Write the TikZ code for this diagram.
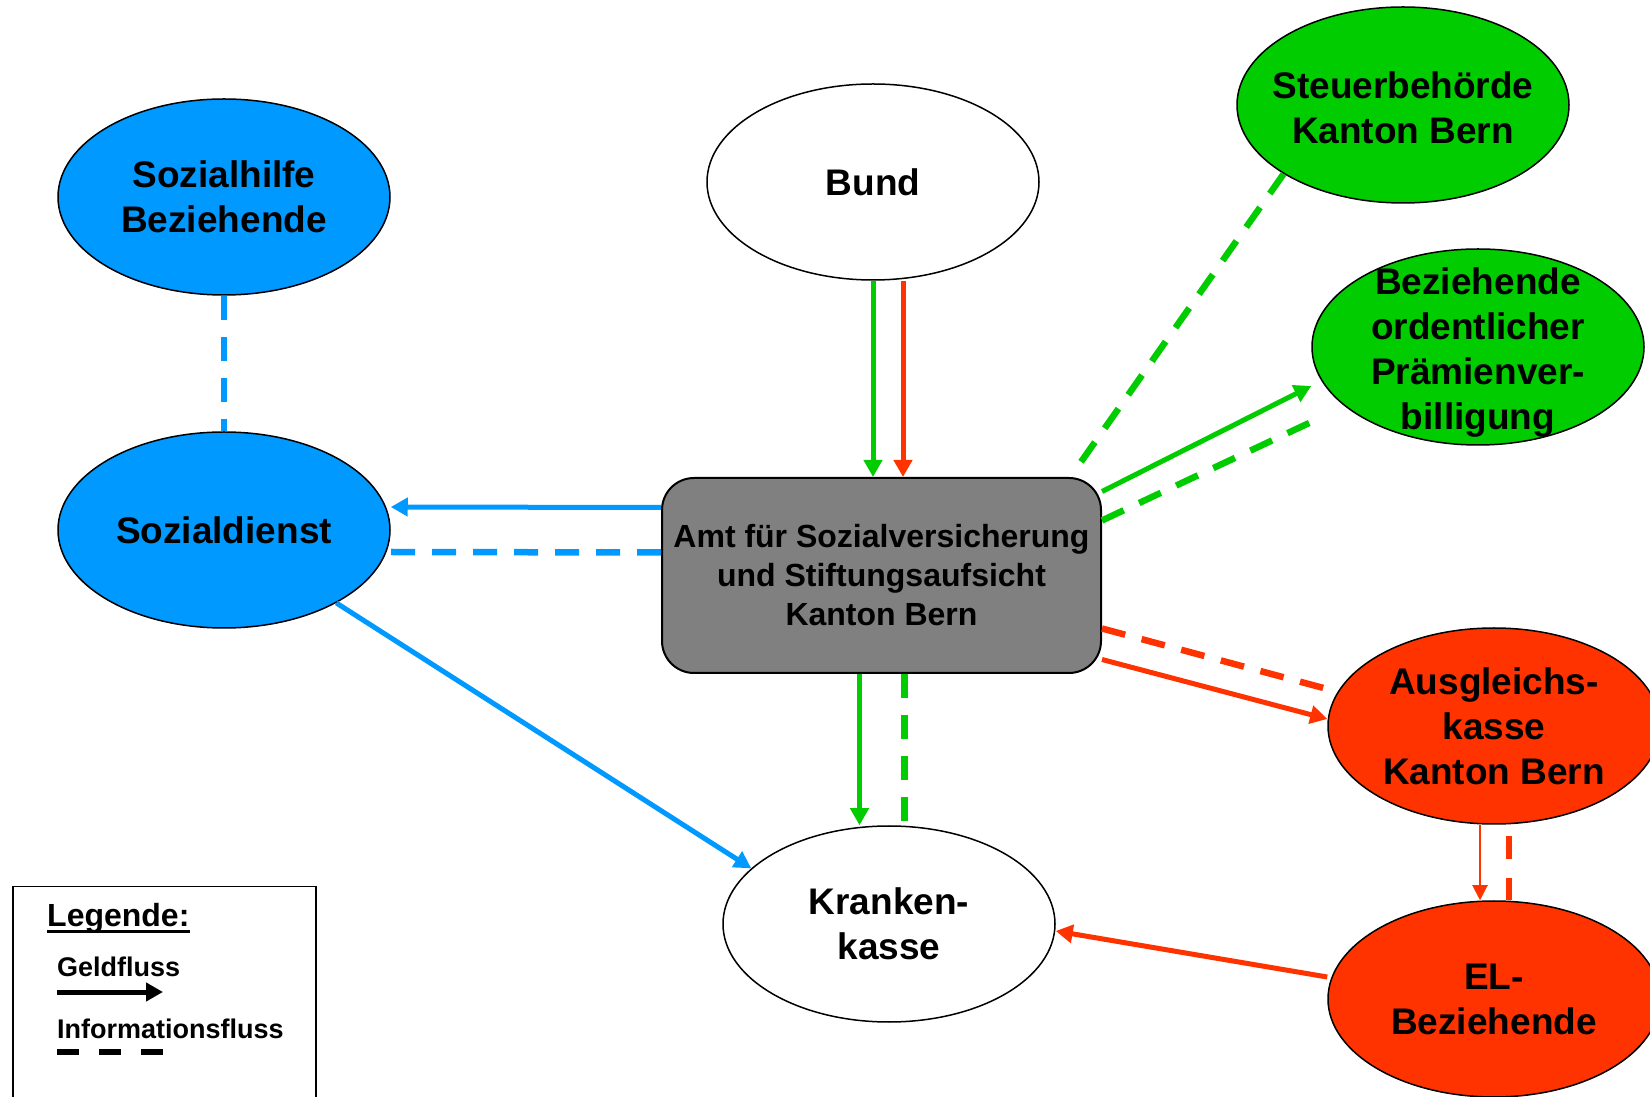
\documentclass[tikz,border=0pt]{standalone}
\usepackage{fontspec}
\setmainfont{Liberation Sans}
\usetikzlibrary{shapes.geometric,arrows.meta}
\definecolor{sdblue}{HTML}{0099FF}
\definecolor{sdgreen}{HTML}{00CC00}
\definecolor{sdred}{HTML}{FF3300}
\tikzset{
    > = {Triangle[length=17pt,width=18pt]},
    ell text/.style = {align=center, inner sep=0pt, font=\fontsize{37}{45}\selectfont\bfseries},
    ell/.style = {ellipse, draw, line width=1.5pt, minimum width=332pt, minimum height=196pt, ell text},
    amtbox/.style = {rectangle, draw, fill=gray, line width=2pt, rounded corners=32pt,
        minimum width=439pt, minimum height=195pt, align=center, font=\fontsize{32}{39}\selectfont\bfseries},
    legtext/.style = {anchor=base west, inner sep=0pt, font=\fontsize{27}{32}\selectfont\bfseries},
    geld/.style = {->, line width=5pt},
    thin geld/.style = {-{Triangle[length=15pt,width=15pt]}, line width=2pt},
    info/.style = {line width=6.5pt, dash pattern=on 24pt off 17pt}
}

\begin{document}
\begin{tikzpicture}[x=1pt,y=1pt]
    \useasboundingbox (0,0) rectangle (1650,1096);

    \node[ell, fill=sdblue] (hilfe) at (224,899) {Sozialhilfe\\Beziehende};
    \node[ell, fill=sdblue] (sozdienst) at (224,566) {Sozialdienst};
    \node[ell, fill=white] (bund) at (873,914) {Bund};
    \node[ell, fill=sdgreen, label={[ell text, yshift=-3pt]center:Steuerbehörde\\Kanton Bern}] (steuer) at (1403,991) {};
    \node[ell, fill=sdgreen, label={[ell text, yshift=-6pt]center:Beziehende\\ordentlicher\\Prämienver-\\billigung}] (praemie) at (1478,749) {};
    \node[ell, fill=sdred] (ausgleich) at (1494,370) {Ausgleichs-\\kasse\\Kanton Bern};
    \node[ell, fill=sdred] (elbez) at (1494,97) {EL-\\Beziehende};
    \node[ell, fill=white] (kranken) at (889,172) {Kranken-\\kasse};
    \node[amtbox] (amt) at (881.5,520.5) {Amt für Sozialversicherung\\und Stiftungsaufsicht\\Kanton Bern};

    % Sozialdienst
    \draw[info, sdblue] (hilfe.south) -- (sozdienst.north);
    \draw[geld, sdblue] ([yshift=68pt]amt.west) -- ([yshift=23pt]sozdienst.east);
    \draw[info, sdblue] ([yshift=23pt]amt.west) -- ([yshift=-22pt]sozdienst.east);
    \draw[geld, sdblue] (sozdienst.-33) -- (kranken.158.5);

    % Bund
    \draw[geld, sdgreen] (bund.south) -- (bund.south |- amt.north);
    \draw[geld, sdred] ([xshift=30pt]bund.south) -- ([xshift=30pt]bund.south |- amt.north);

    % Krankenkasse
    \draw[geld, sdgreen] ([xshift=-22pt]amt.south) -- ([xshift=-22pt]amt.south |- kranken.north);
    \draw[info, sdgreen] ([xshift=23pt]amt.south) -- ([xshift=23pt]amt.south |- kranken.north);
    \draw[geld, sdred] ([yshift=22pt]elbez.west) -- ([yshift=-7pt]kranken.east);

    % Steuerbehoerde, Praemienverbilligung
    \draw[info, sdgreen] (steuer.210) -- ([shift={(-26pt,8pt)}]amt.north east);
    \draw[geld, sdgreen] ([yshift=84pt]amt.east) -- ([yshift=-39pt]praemie.west);
    \draw[info, sdgreen] ([yshift=55pt]amt.east) -- ([yshift=-75pt]praemie.west);

    % Ausgleichskasse
    \draw[info, sdred] ([yshift=-53pt]amt.east) -- ([yshift=37pt]ausgleich.west);
    \draw[geld, sdred] ([yshift=-84pt]amt.east) -- ([yshift=7pt]ausgleich.west);
    \draw[thin geld, sdred] ([xshift=-14pt]ausgleich.south) -- ([xshift=-14pt]ausgleich.south |- elbez.north);
    \draw[info, sdred, dash pattern=on 23pt off 19pt, dash phase=31pt] ([xshift=15pt]ausgleich.south) -- ([xshift=15pt]ausgleich.south |- elbez.north);

    % Legende
    \node[draw, line width=1.5pt, anchor=north west, minimum width=303pt, minimum height=240pt] (legbox) at (12,210) {};
    \node[legtext, font=\fontsize{32}{38}\selectfont\bfseries] (leg) at (47,169) {Legende:};
    \draw[line width=3pt] ([yshift=-4pt]leg.base west) -- ([yshift=-4pt]leg.base east);
    \node[legtext] (leg-geld) at (57,120) {Geldfluss};
    \coordinate (geld-a) at (57,104);
    \coordinate (geld-b) at (163,104);
    \draw[geld] (geld-a) -- (geld-b);
    \node[legtext] (leg-info) at (57,58) {Informationsfluss};
    \coordinate (info-a) at (57,44);
    \coordinate (info-b) at (163,44);
    \draw[line width=6pt, dash pattern=on 22pt off 20pt] (info-a) -- (info-b);
\end{tikzpicture}
\end{document}
